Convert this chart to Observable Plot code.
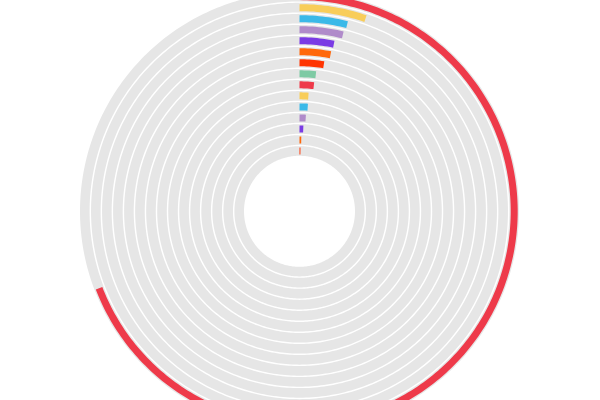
<!DOCTYPE html>
<html>
<head>
<meta charset="utf-8">
<script src="https://cdn.jsdelivr.net/npm/d3@7"></script>
<script src="https://cdn.jsdelivr.net/npm/@observablehq/plot@0.6"></script>
<style>
  html, body { margin: 0; padding: 0; background: #ffffff; overflow: hidden; }
  #chart { width: 600px; height: 400px; }
</style>
</head>
<body>
<div id="chart"></div>
<script>
// Rings from outermost to innermost
const categories = ["R1","R2","R3","R4","R5","R6","R7","R8","R9","R10","R11","R12","R13","R14","R15"];
// values expressed as sweep in degrees (clockwise from 12 o'clock)
const values = [249, 18.9, 14.3, 13.8, 11.6, 11.2, 9.4, 6.8, 6.5, 4.4, 4.5, 3.8, 2.6, 1.4, 0.9];
const colors = ["#EE3A4A", "#F8CD5A", "#3BB9E8", "#B08BCA", "#7A3BE4", "#FF680A", "#FF3400", "#7ECAA4",
                "#EE3A4A", "#F8CD5A", "#3BB9E8", "#B08BCA", "#7A3BE4", "#FF680A", "#FF3400"];

const outerR = 219.5, innerR = 55.5;
const band = d3.scaleBand().domain(categories.slice().reverse()).range([innerR, outerR]).paddingInner(0.13).paddingOuter(0);
const ringMid = c => band(c) + band.bandwidth() / 2;

function arcPoints(cat, sweep, color) {
  const r = ringMid(cat);
  const pts = [];
  const n = Math.max(2, Math.ceil(sweep));
  for (let i = 0; i <= n; i++) {
    const a = (sweep * i / n) * Math.PI / 180;
    pts.push({cat, color, x: r * Math.sin(a), y: r * Math.cos(a)});
  }
  return pts;
}

const tracks = categories.flatMap(c => arcPoints(c, 360, "#E6E6E6"));
const bars = categories.flatMap((c, i) => arcPoints(c, values[i], colors[i]));

const chart = Plot.plot({
  width: 600,
  height: 400,
  margin: 0,
  style: {background: "#ffffff"},
  x: {domain: [-299, 301], axis: null},
  y: {domain: [-189.2, 210.8], axis: null},
  color: {type: "identity"},
  marks: [
    Plot.line(tracks, {x: "x", y: "y", z: "cat", stroke: "color", strokeWidth: band.bandwidth(), strokeLinecap: "butt"}),
    Plot.line(bars, {x: "x", y: "y", z: "cat", stroke: "color", strokeWidth: 7, strokeLinecap: "butt"})
  ]
});
document.getElementById("chart").appendChild(chart);
</script>
</body>
</html>
